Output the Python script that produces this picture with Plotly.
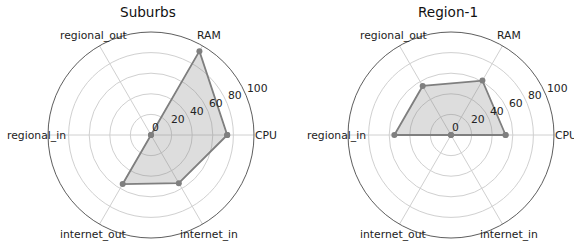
import math
import plotly.graph_objects as go

categories = ["CPU", "RAM", "regional_out", "regional_in", "internet_out", "internet_in"]
suburbs_values = [74, 94, 0, 0, 55, 54]
region1_values = [53, 61, 55, 55, 0, 0]
titles = ["Suburbs", "Region-1"]
radial_ticks = [0, 20, 40, 60, 80, 100]

FONT = "DejaVu Sans"
W, H = 574, 251
CX = [151, 451]      # polar centres (px)
CY = 135
R = 103              # polar radius (px)
LABEL_PX = 115       # radius of category labels (px)
RLABEL_ANGLE = 22.5  # angle of radial tick labels (deg)
RMAX = 100
TICK_FS = 10.8
TITLE_FS = 13.6

fig = go.Figure()

for i, vals in enumerate([suburbs_values, region1_values]):
    sub = "polar" if i == 0 else "polar2"
    fig.add_trace(go.Scatterpolar(
        r=vals + vals[:1],
        theta=categories + categories[:1],
        mode="lines+markers",
        fill="toself",
        fillcolor="rgba(128,128,128,0.27)",
        line=dict(color="#7f7f7f", width=1.8),
        marker=dict(color="#7f7f7f", size=6),
        subplot=sub,
        showlegend=False,
        hoverinfo="skip",
    ))

polar_common = dict(
    bgcolor="white",
    radialaxis=dict(
        range=[0, RMAX],
        tickvals=radial_ticks,
        showticklabels=False,
        angle=RLABEL_ANGLE,
        showline=False,
        ticks="",
        gridcolor="#d0d0d0",
        gridwidth=0.8,
    ),
    angularaxis=dict(
        categoryorder="array",
        categoryarray=categories,
        rotation=0,
        direction="counterclockwise",
        ticks="",
        showticklabels=False,
        showline=True,
        linecolor="#333",
        linewidth=0.8,
        gridcolor="#d0d0d0",
        gridwidth=0.8,
    ),
)


def dom(c):
    return dict(x=[(c - R) / W, (c + R) / W], y=[(H - CY - R) / H, (H - CY + R) / H])


def px(x, y):
    return x / W, 1 - y / H


annotations = []
n = len(categories)
for k, cx in enumerate(CX):
    tx, ty = px(cx - 3, 12)
    annotations.append(dict(text=titles[k], x=tx, y=ty, xref="paper", yref="paper",
                            showarrow=False, font=dict(family=FONT, size=TITLE_FS, color="#111"),
                            xanchor="center", yanchor="middle"))
    # category labels
    for j, cat in enumerate(categories):
        a = math.radians(360 * j / n)
        lx, ly = px(cx + LABEL_PX * math.cos(a), CY - LABEL_PX * math.sin(a))
        annotations.append(dict(text=cat, x=lx, y=ly, xref="paper", yref="paper",
                                showarrow=False, font=dict(family=FONT, size=TICK_FS, color="#222"),
                                xanchor="center", yanchor="middle"))
    # radial tick labels
    a = math.radians(RLABEL_ANGLE)
    for v in radial_ticks:
        rr = R * v / RMAX
        lx, ly = px(cx + rr * math.cos(a), CY - rr * math.sin(a))
        annotations.append(dict(text=str(v), x=lx, y=ly, xref="paper", yref="paper",
                                showarrow=False, font=dict(family=FONT, size=TICK_FS, color="#222"),
                                xanchor="left", yanchor="bottom", borderpad=0))

fig.update_layout(
    width=W, height=H,
    margin=dict(l=0, r=0, t=0, b=0, autoexpand=False),
    paper_bgcolor="white",
    polar=dict(domain=dom(CX[0]), **polar_common),
    polar2=dict(domain=dom(CX[1]), **polar_common),
    annotations=annotations,
)

fig.write_html("out.html", config={"displayModeBar": False},
               post_script="document.body.style.margin='0px';")
